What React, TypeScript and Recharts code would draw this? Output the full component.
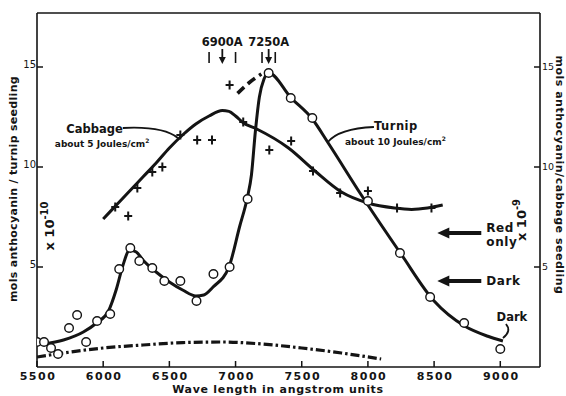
import {
  ComposedChart,
  Label,
  Line,
  ReferenceDot,
  ReferenceLine,
  Scatter,
  XAxis,
  YAxis,
} from "recharts";

type Point = { wave: number; value: number };

const INK = "#141414";
const FONT = "'DejaVu Sans', sans-serif";

const waveTicks = [5500, 6000, 6500, 7000, 7500, 8000, 8500, 9000];
const valueTicks = [5, 10, 15];

// turnip, x 10^-10 mols per seedling (left scale)
const turnipCurve: Point[] = [
  { wave: 5550, value: 1.15 },
  { wave: 5700, value: 1.35 },
  { wave: 5850, value: 1.75 },
  { wave: 5950, value: 2.2 },
  { wave: 6040, value: 2.8 },
  { wave: 6100, value: 3.9 },
  { wave: 6150, value: 5.1 },
  { wave: 6200, value: 5.85 },
  { wave: 6250, value: 5.75 },
  { wave: 6300, value: 5.35 },
  { wave: 6400, value: 4.75 },
  { wave: 6500, value: 4.25 },
  { wave: 6600, value: 3.85 },
  { wave: 6700, value: 3.55 },
  { wave: 6760, value: 3.6 },
  { wave: 6830, value: 4.0 },
  { wave: 6950, value: 5.0 },
  { wave: 7030, value: 7.0 },
  { wave: 7090, value: 8.5 },
  { wave: 7120, value: 9.6 },
  { wave: 7150, value: 11.8 },
  { wave: 7180, value: 13.5 },
  { wave: 7215, value: 14.4 },
  { wave: 7250, value: 14.7 },
  { wave: 7420, value: 13.45 },
  { wave: 7580, value: 12.4 },
  { wave: 7700, value: 11.2 },
  { wave: 7950, value: 8.6 },
  { wave: 8250, value: 5.65 },
  { wave: 8500, value: 3.3 },
  { wave: 8730, value: 2.05 },
  { wave: 8900, value: 1.55 },
  { wave: 9020, value: 1.3 },
];

const turnipReadings: Point[] = [
  { wave: 5500, value: 1.25 },
  { wave: 5553, value: 1.25 },
  { wave: 5606, value: 0.95 },
  { wave: 5659, value: 0.65 },
  { wave: 5742, value: 1.95 },
  { wave: 5803, value: 2.6 },
  { wave: 5871, value: 1.25 },
  { wave: 5954, value: 2.3 },
  { wave: 6053, value: 2.65 },
  { wave: 6121, value: 4.9 },
  { wave: 6205, value: 5.95 },
  { wave: 6273, value: 5.3 },
  { wave: 6371, value: 4.95 },
  { wave: 6462, value: 4.3 },
  { wave: 6583, value: 4.3 },
  { wave: 6705, value: 3.3 },
  { wave: 6833, value: 4.65 },
  { wave: 6955, value: 5.0 },
  { wave: 7091, value: 8.4 },
  { wave: 7250, value: 14.7 },
  { wave: 7417, value: 13.45 },
  { wave: 7580, value: 12.45 },
  { wave: 8000, value: 8.3 },
  { wave: 8242, value: 5.7 },
  { wave: 8470, value: 3.5 },
  { wave: 8727, value: 2.2 },
  { wave: 9000, value: 0.9 },
];

// cabbage, x 10^-9 mols per seedling (right scale)
const cabbageCurve: Point[] = [
  { wave: 6000, value: 7.4 },
  { wave: 6100, value: 8.1 },
  { wave: 6200, value: 8.8 },
  { wave: 6300, value: 9.5 },
  { wave: 6400, value: 10.2 },
  { wave: 6500, value: 10.95 },
  { wave: 6600, value: 11.6 },
  { wave: 6700, value: 12.15 },
  { wave: 6800, value: 12.55 },
  { wave: 6900, value: 12.82 },
  { wave: 6950, value: 12.78 },
  { wave: 7000, value: 12.55 },
  { wave: 7060, value: 12.2 },
  { wave: 7160, value: 11.9 },
  { wave: 7400, value: 10.95 },
  { wave: 7600, value: 9.8 },
  { wave: 7800, value: 8.75 },
  { wave: 8000, value: 8.2 },
  { wave: 8200, value: 7.95 },
  { wave: 8330, value: 7.88 },
  { wave: 8450, value: 7.95 },
  { wave: 8565, value: 8.1 },
];

const cabbageReadings: Point[] = [
  { wave: 6091, value: 8.0 },
  { wave: 6189, value: 7.55 },
  { wave: 6258, value: 8.95 },
  { wave: 6371, value: 9.75 },
  { wave: 6447, value: 10.0 },
  { wave: 6583, value: 11.6 },
  { wave: 6710, value: 11.35 },
  { wave: 6822, value: 11.35 },
  { wave: 6955, value: 14.1 },
  { wave: 7058, value: 12.25 },
  { wave: 7255, value: 10.85 },
  { wave: 7420, value: 11.3 },
  { wave: 7585, value: 9.8 },
  { wave: 7790, value: 8.7 },
  { wave: 8000, value: 8.8 },
  { wave: 8220, value: 7.95 },
  { wave: 8480, value: 7.95 },
];

const cabbagePeakGuess: Point[] = [
  { wave: 7015, value: 13.68 },
  { wave: 7100, value: 14.2 },
  { wave: 7195, value: 14.65 },
];

const darkBaseline: Point[] = [
  { wave: 5500, value: 0.5 },
  { wave: 5700, value: 0.7 },
  { wave: 6000, value: 0.95 },
  { wave: 6300, value: 1.1 },
  { wave: 6600, value: 1.22 },
  { wave: 6900, value: 1.25 },
  { wave: 7200, value: 1.15 },
  { wave: 7500, value: 0.95 },
  { wave: 7800, value: 0.7 },
  { wave: 8100, value: 0.4 },
];

const filterBands = [
  { label: "6900A", center: 6900, low: 6800, high: 7000 },
  { label: "7250A", center: 7250, low: 7200, high: 7300 },
];

const sideLevels = [
  { lines: ["Red", "only"], value: 6.7 },
  { lines: ["Dark"], value: 4.3 },
];

function WaveTick(props: any) {
  const { x, y, payload } = props;
  return (
    <g>
      <line x1={x} x2={x} y1={y} y2={y - 6} stroke={INK} strokeWidth={1.5} />
      <text
        x={x + 1}
        y={y + 12.5}
        textAnchor="middle"
        fontSize={11}
        fontWeight="bold"
        letterSpacing={1.5}
        fill={INK}
        fontFamily={FONT}
      >
        {payload.value}
      </text>
    </g>
  );
}

function LeftTick(props: any) {
  const { x, y, payload } = props;
  return (
    <g>
      <line x1={x} x2={x + 6} y1={y} y2={y} stroke={INK} strokeWidth={1.5} />
      <text x={x - 1} y={y + 1} textAnchor="end" fontSize={10} fill={INK} fontFamily={FONT}>
        {payload.value}
      </text>
    </g>
  );
}

function RightTick(props: any) {
  const { x, y, payload } = props;
  return (
    <g>
      <line x1={x} x2={x - 6} y1={y} y2={y} stroke={INK} strokeWidth={1.5} />
      <text x={x + 2} y={y + 3} textAnchor="start" fontSize={9.5} fill={INK} fontFamily={FONT}>
        {payload.value}
      </text>
    </g>
  );
}

const openCircle = (p: any) => (
  <circle cx={p.cx} cy={p.cy} r={4.3} fill="#fff" stroke={INK} strokeWidth={1.4} />
);

const plusMark = (p: any) => (
  <path
    d={`M${p.cx - 4},${p.cy}H${p.cx + 4}M${p.cx},${p.cy - 4.5}V${p.cy + 4.5}`}
    stroke={INK}
    strokeWidth={2}
  />
);

function DownArrow({ cx, cy, label }: { cx: number; cy: number; label: string }) {
  return (
    <g>
      <text
        x={cx}
        y={cy - 17}
        textAnchor="middle"
        fontSize={11.5}
        fontWeight="bold"
        fill={INK}
        fontFamily={FONT}
      >
        {label}
      </text>
      <line x1={cx} x2={cx} y1={cy - 14} y2={cy - 4} stroke={INK} strokeWidth={1.8} />
      <path d={`M${cx - 3.5},${cy - 6}L${cx + 3.5},${cy - 6}L${cx},${cy + 1}Z`} fill={INK} />
    </g>
  );
}

function LeftArrow({ cx, cy, lines }: { cx: number; cy: number; lines: string[] }) {
  const top = lines.length > 1 ? cy - 1 : cy + 4;
  return (
    <g>
      <path d={`M${cx},${cy}L${cx + 12},${cy - 5.5}L${cx + 12},${cy + 5.5}Z`} fill={INK} />
      <line x1={cx + 11} x2={cx + 44} y1={cy} y2={cy} stroke={INK} strokeWidth={4} />
      {lines.map((t, i) => (
        <text
          key={t}
          x={cx + 49}
          y={top + i * 14}
          fontSize={12}
          fontWeight="bold"
          letterSpacing={0.6}
          fill={INK}
          fontFamily={FONT}
        >
          {t}
        </text>
      ))}
    </g>
  );
}

function CabbageNote({ cx, cy }: { cx: number; cy: number }) {
  return (
    <g fontFamily={FONT} fill={INK}>
      <text x={cx - 55} y={cy - 5} textAnchor="end" fontSize={11.5} fontWeight="bold">
        Cabbage
      </text>
      <text x={cx - 123} y={cy + 9} fontSize={9} fontWeight="bold">
        about 5 Joules/cm<tspan dy={-4} fontSize={6}>2</tspan>
      </text>
      <path
        d={`M${cx - 55},${cy - 10}C${cx - 35},${cy - 11} ${cx - 12},${cy - 10} ${cx},${cy}`}
        fill="none"
        stroke={INK}
        strokeWidth={1.8}
      />
    </g>
  );
}

function TurnipNote({ cx, cy }: { cx: number; cy: number }) {
  return (
    <g fontFamily={FONT} fill={INK}>
      <text x={cx + 46} y={cy - 12} fontSize={11.5} fontWeight="bold" letterSpacing={0.5}>
        Turnip
      </text>
      <text x={cx + 17} y={cy + 3} fontSize={9} fontWeight="bold">
        about 10 Joules/cm<tspan dy={-4} fontSize={6}>2</tspan>
      </text>
      <path
        d={`M${cx},${cy}C${cx + 8},${cy - 10} ${cx + 25},${cy - 14} ${cx + 46},${cy - 15}`}
        fill="none"
        stroke={INK}
        strokeWidth={1.8}
      />
    </g>
  );
}

function DarkNote({ cx, cy }: { cx: number; cy: number }) {
  return (
    <g fontFamily={FONT} fill={INK}>
      <text x={cx + 9} y={cy - 20} textAnchor="middle" fontSize={11.5} fontWeight="bold">
        Dark
      </text>
      <path
        d={`M${cx + 3},${cy - 17}Q${cx + 9},${cy - 10} ${cx},${cy - 3}`}
        fill="none"
        stroke={INK}
        strokeWidth={1.8}
      />
    </g>
  );
}

function PowerLabel({ cx, cy, exp, shift }: { cx: number; cy: number; exp: string; shift: number }) {
  return (
    <text
      transform={`translate(${cx},${cy}) rotate(-90)`}
      textAnchor="middle"
      fontSize={13}
      fontWeight="bold"
      fill={INK}
      fontFamily={FONT}
    >
      x 10<tspan dy={shift} fontSize={10}>{exp}</tspan>
    </text>
  );
}

export default function App() {
  return (
    <div style={{ position: "absolute", left: 0, top: 0, background: "#fff" }}>
      <ComposedChart
        width={566}
        height={396}
        margin={{ top: 13, right: 0, bottom: 0, left: 0 }}
      >
        <XAxis
          dataKey="wave"
          type="number"
          domain={[5500, 9300]}
          ticks={waveTicks}
          interval={0}
          allowDataOverflow
          height={29}
          tickSize={0}
          tickMargin={0}
          tickLine={false}
          tick={<WaveTick />}
          axisLine={{ stroke: INK, strokeWidth: 1.6 }}
        >
          <Label
            content={(p: any) => (
              <text
                x={p.viewBox.x + 241}
                y={p.viewBox.y + 25.5}
                textAnchor="middle"
                fontSize={11}
                fontWeight="bold"
                letterSpacing={0.7}
                fill={INK}
                fontFamily={FONT}
              >
                Wave length in angstrom units
              </text>
            )}
          />
        </XAxis>
        <YAxis
          yAxisId="left"
          type="number"
          domain={[0, 17.7]}
          ticks={valueTicks}
          interval={0}
          width={37}
          tickSize={0}
          tickMargin={0}
          tickLine={false}
          tick={<LeftTick />}
          axisLine={{ stroke: INK, strokeWidth: 1.6 }}
        >
          <Label
            content={(p: any) => (
              <text
                transform={`translate(${p.viewBox.x + 17},${p.viewBox.y + 176}) rotate(-90)`}
                textAnchor="middle"
                fontSize={11}
                fontWeight="bold"
                letterSpacing={0.3}
                fill={INK}
                fontFamily={FONT}
              >
                mols anthocyanin / turnip seedling
              </text>
            )}
          />
        </YAxis>
        <YAxis
          yAxisId="right"
          orientation="right"
          type="number"
          domain={[0, 17.7]}
          ticks={valueTicks}
          interval={0}
          width={26}
          tickSize={0}
          tickMargin={0}
          tickLine={false}
          tick={<RightTick />}
          axisLine={{ stroke: INK, strokeWidth: 1.6 }}
        >
          <Label
            content={(p: any) => (
              <text
                transform={`translate(${p.viewBox.x + 16},${p.viewBox.y + 162}) rotate(90)`}
                textAnchor="middle"
                fontSize={11}
                fontWeight="bold"
                letterSpacing={0.5}
                fill={INK}
                fontFamily={FONT}
              >
                mols anthocyanin/cabbage seedling
              </text>
            )}
          />
        </YAxis>

        <ReferenceLine yAxisId="left" y={17.7} stroke={INK} strokeWidth={1.6} />

        <Line
          yAxisId="left"
          data={darkBaseline}
          dataKey="value"
          type="monotone"
          dot={false}
          stroke={INK}
          strokeWidth={3.2}
          strokeDasharray="9 3 2.5 3"
          isAnimationActive={false}
        />
        <Line
          yAxisId="right"
          data={cabbageCurve}
          dataKey="value"
          type="monotone"
          dot={false}
          stroke={INK}
          strokeWidth={3}
          isAnimationActive={false}
        />
        <Line
          yAxisId="right"
          data={cabbagePeakGuess}
          dataKey="value"
          type="monotone"
          dot={false}
          stroke={INK}
          strokeWidth={3.6}
          strokeDasharray="9 5"
          isAnimationActive={false}
        />
        <Line
          yAxisId="left"
          data={turnipCurve}
          dataKey="value"
          type="monotone"
          dot={false}
          stroke={INK}
          strokeWidth={3}
          isAnimationActive={false}
        />
        <Scatter
          yAxisId="right"
          data={cabbageReadings}
          dataKey="value"
          shape={plusMark}
          isAnimationActive={false}
        />
        <Scatter
          yAxisId="left"
          data={turnipReadings}
          dataKey="value"
          shape={openCircle}
          isAnimationActive={false}
        />

        {filterBands.map((b) => [b.low, b.high].map((w) => (
          <ReferenceLine
            key={`${b.label}-${w}`}
            yAxisId="left"
            segment={[{ x: w, y: 15.2 }, { x: w, y: 15.75 }]}
            stroke={INK}
            strokeWidth={1.6}
          />
        )))}
        {filterBands.map((b) => (
          <ReferenceDot
            key={b.label}
            yAxisId="left"
            x={b.center}
            y={15.2}
            shape={(p: any) => <DownArrow cx={p.cx} cy={p.cy} label={b.label} />}
          />
        ))}
        {sideLevels.map((s) => (
          <ReferenceDot
            key={s.lines[0]}
            yAxisId="right"
            x={8524}
            y={s.value}
            shape={(p: any) => <LeftArrow cx={p.cx} cy={p.cy} lines={s.lines} />}
          />
        ))}
        <ReferenceDot
          yAxisId="right"
          x={6564}
          y={11.45}
          shape={(p: any) => <CabbageNote cx={p.cx} cy={p.cy} />}
        />
        <ReferenceDot
          yAxisId="left"
          x={7698}
          y={11.25}
          shape={(p: any) => <TurnipNote cx={p.cx} cy={p.cy} />}
        />
        <ReferenceDot
          yAxisId="left"
          x={9020}
          y={1.3}
          shape={(p: any) => <DarkNote cx={p.cx} cy={p.cy} />}
        />
        <ReferenceDot
          yAxisId="left"
          x={5628}
          y={7.05}
          shape={(p: any) => <PowerLabel cx={p.cx} cy={p.cy} exp="-10" shift={-6} />}
        />
        <ReferenceDot
          yAxisId="right"
          x={9195}
          y={7.35}
          shape={(p: any) => <PowerLabel cx={p.cx} cy={p.cy} exp="-9" shift={-6} />}
        />
      </ComposedChart>
    </div>
  );
}
